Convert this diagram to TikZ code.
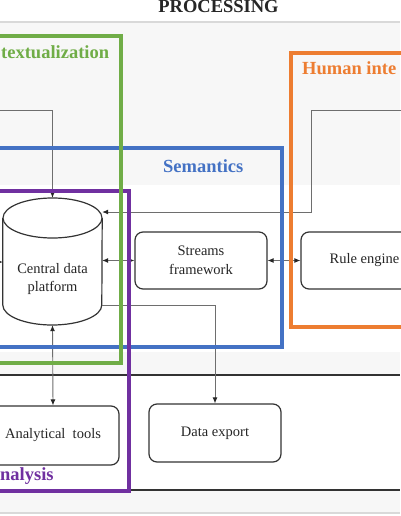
\documentclass[tikz,border=0pt]{standalone}
\usepackage{fontspec}
\setmainfont{Liberation Serif}
\usetikzlibrary{arrows.meta}
\definecolor{cgreen}{RGB}{112,173,71}
\definecolor{cblue}{RGB}{68,114,196}
\definecolor{corange}{RGB}{237,125,49}
\definecolor{cpurple}{RGB}{112,48,160}
\definecolor{bggray}{RGB}{247,247,247}
\definecolor{linegray}{RGB}{217,217,217}
\definecolor{boxline}{RGB}{51,51,51}
\definecolor{connline}{RGB}{110,110,110}
\begin{document}
\begin{tikzpicture}[x=1pt,y=-1pt,
  >={Latex[length=6pt,width=5pt,color=black!85]},
  stepbox/.style={draw=boxline, line width=1.2pt, rounded corners=8pt, fill=white,
    minimum width=132pt, minimum height=57pt, inner sep=0pt, align=center,
    font=\fontsize{14.5}{18.5}\selectfont, text=black!85},
  conn/.style={draw=connline, line width=0.9pt},
  grp/.style={line width=3.6pt},
  grplabel/.style={font=\fontsize{18.5}{20}\selectfont\bfseries, inner sep=0pt},
  plain/.style={font=\fontsize{14.5}{18.5}\selectfont, text=black!85, align=center, inner sep=0pt}
]
\useasboundingbox (0,0) rectangle (400,516);
% backgrounds
\fill[white] (0,0) rectangle (400,516);
\fill[bggray] (0,22) rectangle (400,513);
\draw[linegray, line width=1.5pt] (0,22) -- (400,22);
\fill[white] (0,185) rectangle (400,352);
\fill[white] (0,375) rectangle (400,490);
\draw[boxline, line width=1.5pt] (0,375) -- (400,375);
\draw[boxline, line width=1.5pt] (0,490) -- (400,490);
\draw[linegray, line width=2pt] (0,513) -- (400,513);

% title
\node[font=\fontsize{18.5}{20}\selectfont\bfseries, text=black!85, anchor=base, inner sep=0pt] (title) at (218.5,13) {PROCESSING};

% cylinder (anchor holder)
\node[minimum width=99pt, minimum height=127pt, inner sep=0pt] (cyl) at (52.5,261.5) {};
\filldraw[fill=white, draw=boxline, line width=1.2pt]
  (cyl.west |- 0,218) -- (cyl.west |- 0,305)
  arc[start angle=180, end angle=360, x radius=49.5pt, y radius=20pt]
  -- (cyl.east |- 0,218);
\filldraw[fill=white, draw=boxline, line width=1.2pt] (52.5,218) ellipse [x radius=49.5pt, y radius=20pt];
\node[plain] (cyltext) at (52.5,279) {Central data\\platform};

% boxes
\node[stepbox] (streams) at (201,260.5) {Streams\\framework};
\node[stepbox, minimum width=134pt] (rule) at (368,260.5) {Rule engine\hspace*{7pt}};
\node[stepbox, minimum height=58pt] (export) at (215,433) {Data export};
\node[stepbox, minimum height=59pt] (analytical) at (53,435.5) {Analytical\ \ tools};

% connectors
\coordinate (lt) at (-2,110);
\coordinate (rt) at (402,110);
\coordinate (rtb) at (311,212);
\coordinate (dx) at (216,305);
\coordinate (lf) at (-2,262);
\draw[conn,->] (lt) -| (cyl.north);
\draw[conn,->] (rt) -| (rtb) -- (rtb -| cyl.east);
\draw[conn,<->] (streams.west -| cyl.east) -- (streams.west);
\draw[conn,<->] (streams.east) -- (rule.west);
\draw[conn,->] (cyl.east |- dx) -| (export.north);
\draw[conn,<->] (cyl.south) -- (analytical.north);
\draw[conn,->] (lf) -- (lf -| cyl.west);

% group boxes
\draw[grp, cblue] (-10,148) rectangle (282,347);
\draw[grp, cpurple] (-10,191) rectangle (129,491);
\draw[grp, cgreen] (-10,36) rectangle (121,363);
\draw[grp, corange] (291,53) rectangle (410,327);

% group labels
\node[grplabel, text=cgreen, anchor=base west] (lctx) at (1,59) {textualization};
\node[grplabel, text=cblue, anchor=base west] (lsem) at (163,172.5) {Semantics};
\node[grplabel, text=corange, anchor=base west] (lhum) at (302,75) {Human inte};
\node[grplabel, text=cpurple, anchor=base west] (lana) at (0,480) {nalysis};
\end{tikzpicture}
\end{document}
